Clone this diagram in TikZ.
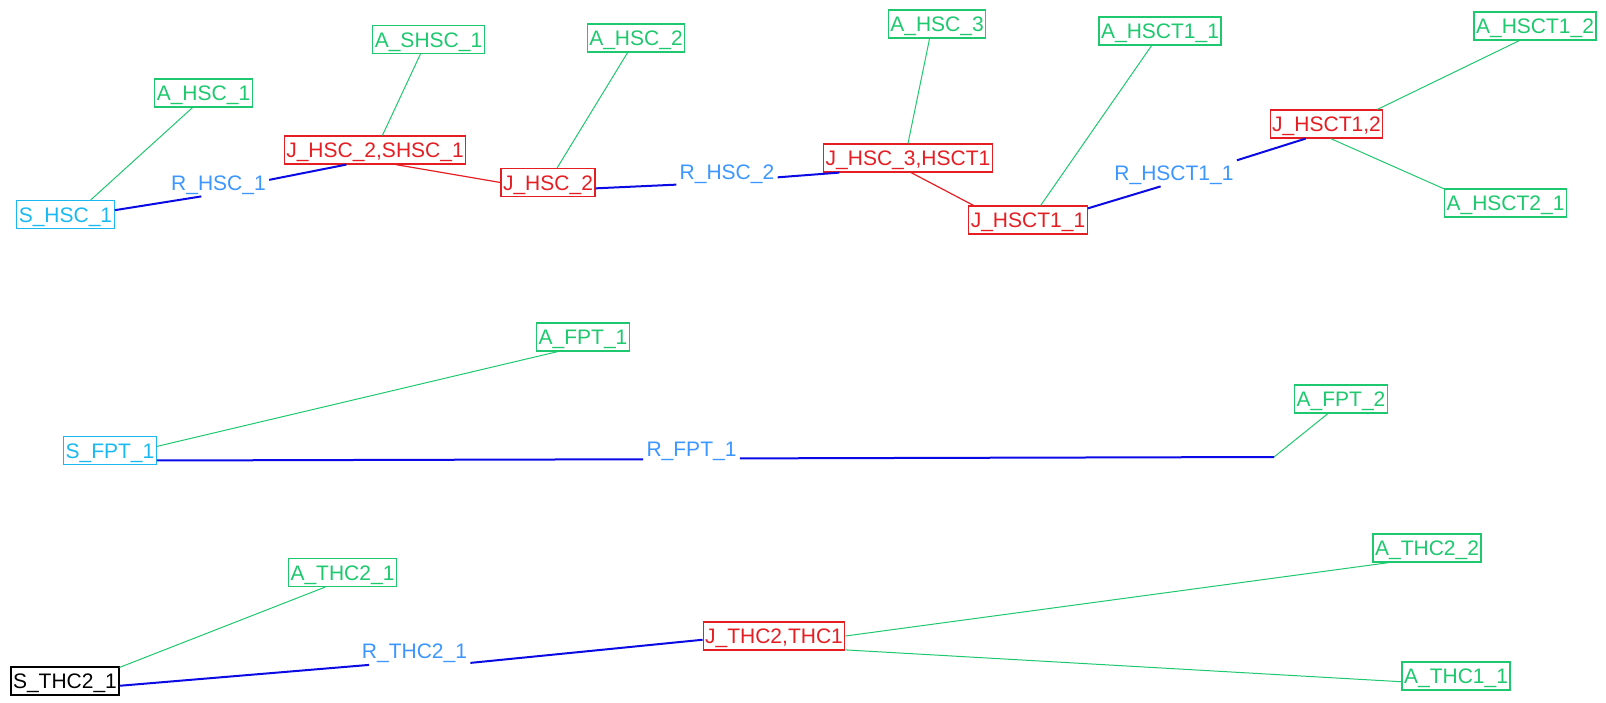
\documentclass[tikz,border=0pt]{standalone}
\usepackage{fontspec}
\setmainfont{Liberation Sans}
\definecolor{agreen}{RGB}{30,200,110}
\definecolor{jred}{RGB}{228,30,35}
\definecolor{scyan}{RGB}{25,185,240}
\definecolor{rblue}{RGB}{60,150,255}
\definecolor{lblue}{RGB}{10,10,230}

\begin{document}
\begin{tikzpicture}[
  x=0.5pt, y=-0.5pt, font=\fontsize{10.5pt}{12pt}\selectfont,
  box/.style={draw,line width=0.6pt,inner xsep=1pt,inner ysep=0pt,minimum height=14pt,text height=9pt,text depth=1.5pt},
  an/.style={box,draw=agreen,text=agreen},
  jn/.style={box,draw=jred,text=jred},
  sr/.style={box,draw=scyan,text=scyan},
  rl/.style={text=rblue,inner xsep=1.5pt,inner ysep=1.5pt,text height=9pt,text depth=1.5pt},
  gl/.style={agreen,line width=0.5pt},
  bl/.style={lblue,line width=1pt},
  rd/.style={jred,line width=0.6pt}]

\useasboundingbox (0,0) rectangle (1606,702);

\node[sr] (shsc1) at (65.5,214.5) {S\_HSC\_1};
\node[an] (ahsc1) at (203.5,93) {A\_HSC\_1};
\node[an] (ashsc1) at (428.5,39.5) {A\_SHSC\_1};
\node[an] (ahsc2) at (636,38) {A\_HSC\_2};
\node[an] (ahsc3) at (937,24) {A\_HSC\_3};
\node[an] (ahsct11) at (1160,31) {A\_HSCT1\_1};
\node[an] (ahsct12) at (1535,26) {A\_HSCT1\_2};
\node[jn] (jhscs) at (375,150) {J\_HSC\_2,SHSC\_1};
\node[jn] (jhsc2) at (548,182.5) {J\_HSC\_2};
\node[jn] (jhsct) at (908,158) {J\_HSC\_3,HSCT1};
\node[jn] (jhsct11) at (1028,220) {J\_HSCT1\_1};
\node[jn] (jhsct12) at (1326.5,124) {J\_HSCT1,2};
\node[an] (ahsct21) at (1505.5,203) {A\_HSCT2\_1};
\node[rl] (rhsc1) at (218.5,182.5) {R\_HSC\_1};
\node[rl] (rhsc2) at (727,172) {R\_HSC\_2};
\node[rl] (rhsct11) at (1174,172.5) {R\_HSCT1\_1};

\node[sr] (sfpt1) at (110,450.5) {S\_FPT\_1};
\node[an] (afpt1) at (583,337) {A\_FPT\_1};
\node[an] (afpt2) at (1341,399) {A\_FPT\_2};
\node[rl] (rfpt1) at (691.5,449) {R\_FPT\_1};
\coordinate (fptbend) at (1274,457);

\node[box] (sthc21) at (65,681) {S\_THC2\_1};
\node[an] (athc21) at (342.5,572.5) {A\_THC2\_1};
\node[jn] (jthc) at (774,636) {J\_THC2,THC1};
\node[an] (athc22) at (1427,548) {A\_THC2\_2};
\node[an] (athc11) at (1456,676) {A\_THC1\_1};
\node[rl] (rthc21) at (414.5,651) {R\_THC2\_1};

\foreach \a/\b in {ahsc1.233/shsc1.30, ashsc1.241/jhscs.63, ahsc2.240/jhsc2.58,
  ahsc3.243/jhsct.north, ahsct11.240/jhsct11.49, ahsct12.223/jhsct12.16,
  jhsct12.286/ahsct21.167, afpt1.210/sfpt1.5, fptbend/afpt2.228,
  athc21.220/sthc21.14, jthc.east/athc22.201, jthc.349/athc11.186}
  \draw[gl] (\a) -- (\b);

\draw[rd] (jhscs.325) -- (jhsc2.west);
\draw[rd] (jhsct.282) -- (jhsct11.165);

\foreach \a/\b in {shsc1.5/rhsc1.219, rhsc1.3/jhscs.207, jhsc2.353/rhsc2.194,
  rhsc2.354/jhsct.192, jhsct11.11/rhsct11.226, rhsct11.11/jhsct12.215,
  sfpt1.348/rfpt1.192, rfpt1.349/fptbend, sthc21.355/rthc21.197, rthc21.348/jthc.183}
  \draw[bl] (\a) -- (\b);
\end{tikzpicture}
\end{document}
